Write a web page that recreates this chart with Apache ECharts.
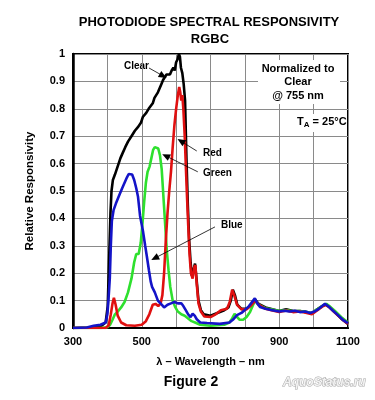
<!DOCTYPE html>
<html>
<head>
<meta charset="utf-8">
<script src="https://cdn.jsdelivr.net/npm/echarts@6/dist/echarts.min.js"></script>
<style>
  html, body { margin: 0; padding: 0; background: #fff; }
  #chart { width: 375px; height: 400px; }
</style>
</head>
<body>
<div id="chart"></div>
<script>
// wavelength (nm), relative responsivity
const clearData = [[300, 0], [350, 0.002], [380, 0.006], [395, 0.02], [401, 0.08], [405, 0.25], [409, 0.42], [412, 0.5], [416, 0.54], [422, 0.56], [430, 0.59], [438, 0.62], [445, 0.64], [452, 0.66], [460, 0.68], [470, 0.7], [480, 0.72], [490, 0.735], [498, 0.75], [503, 0.77], [508, 0.765], [513, 0.785], [520, 0.8], [526, 0.81], [532, 0.82], [537, 0.84], [542, 0.845], [547, 0.86], [552, 0.875], [557, 0.89], [562, 0.905], [567, 0.915], [572, 0.925], [577, 0.93], [582, 0.925], [587, 0.94], [592, 0.95], [596, 0.94], [600, 0.97], [604, 0.98], [608, 1.0], [611, 0.99], [614, 0.95], [618, 0.93], [622, 0.89], [626, 0.83], [630, 0.62], [634, 0.45], [638, 0.32], [642, 0.24], [646, 0.19], [650, 0.21], [655, 0.235], [660, 0.17], [665, 0.1], [672, 0.065], [680, 0.05], [700, 0.045], [720, 0.055], [740, 0.065], [752, 0.075], [759, 0.1], [765, 0.14], [771, 0.12], [778, 0.085], [790, 0.07], [805, 0.07], [820, 0.085], [829, 0.105], [840, 0.088], [860, 0.075], [880, 0.068], [900, 0.062], [920, 0.068], [940, 0.062], [960, 0.062], [980, 0.058], [995, 0.053], [1010, 0.068], [1025, 0.08], [1035, 0.087], [1045, 0.078], [1060, 0.06], [1080, 0.035], [1100, 0.015]]
const greenData = [[300, 0], [380, 0], [400, 0.003], [408, 0.012], [415, 0.03], [422, 0.05], [430, 0.06], [440, 0.075], [450, 0.095], [460, 0.13], [470, 0.18], [478, 0.24], [484, 0.27], [491, 0.27], [497, 0.31], [502, 0.38], [507, 0.46], [512, 0.53], [517, 0.57], [523, 0.59], [528, 0.62], [533, 0.65], [538, 0.66], [543, 0.655], [548, 0.655], [553, 0.63], [558, 0.58], [563, 0.48], [568, 0.38], [573, 0.28], [578, 0.21], [583, 0.15], [590, 0.1], [597, 0.077], [605, 0.06], [615, 0.05], [625, 0.045], [635, 0.035], [645, 0.025], [655, 0.02], [670, 0.012], [700, 0.008], [740, 0.012], [755, 0.02], [763, 0.035], [770, 0.052], [776, 0.042], [785, 0.03], [795, 0.03], [805, 0.04], [815, 0.058], [824, 0.085], [831, 0.1], [840, 0.085], [860, 0.072], [880, 0.067], [900, 0.062], [920, 0.066], [940, 0.061], [960, 0.062], [980, 0.058], [995, 0.055], [1010, 0.068], [1025, 0.08], [1037, 0.088], [1048, 0.078], [1062, 0.062], [1080, 0.04], [1100, 0.02]]
const redData = [[300, 0], [395, 0], [404, 0.01], [410, 0.05], [415, 0.09], [419, 0.11], [424, 0.085], [430, 0.045], [440, 0.02], [455, 0.01], [480, 0.008], [500, 0.012], [512, 0.025], [522, 0.05], [532, 0.085], [540, 0.088], [548, 0.08], [555, 0.09], [560, 0.12], [565, 0.2], [570, 0.32], [575, 0.42], [580, 0.5], [585, 0.57], [590, 0.66], [595, 0.74], [600, 0.8], [605, 0.85], [609, 0.88], [612, 0.86], [615, 0.83], [618, 0.85], [621, 0.8], [625, 0.7], [628, 0.6], [631, 0.5], [635, 0.38], [639, 0.27], [643, 0.2], [648, 0.18], [652, 0.22], [656, 0.23], [660, 0.16], [665, 0.09], [672, 0.06], [682, 0.042], [700, 0.04], [715, 0.05], [730, 0.065], [748, 0.07], [756, 0.095], [763, 0.14], [769, 0.12], [777, 0.085], [790, 0.068], [805, 0.068], [820, 0.085], [830, 0.1], [840, 0.085], [860, 0.07], [880, 0.064], [900, 0.058], [920, 0.064], [940, 0.058], [960, 0.06], [980, 0.055], [995, 0.05], [1010, 0.064], [1025, 0.078], [1035, 0.084], [1045, 0.076], [1060, 0.058], [1080, 0.035], [1100, 0.015]]
const blueData = [[300, 0], [340, 0.002], [360, 0.008], [380, 0.012], [395, 0.02], [400, 0.05], [403, 0.1], [407, 0.18], [410, 0.3], [413, 0.39], [418, 0.43], [425, 0.455], [433, 0.48], [443, 0.51], [450, 0.53], [457, 0.55], [462, 0.562], [467, 0.567], [472, 0.56], [478, 0.54], [484, 0.51], [489, 0.48], [495, 0.41], [504, 0.35], [510, 0.3], [515, 0.26], [521, 0.21], [526, 0.17], [530, 0.15], [538, 0.13], [547, 0.1], [558, 0.085], [565, 0.075], [575, 0.085], [585, 0.09], [595, 0.095], [605, 0.09], [615, 0.09], [621, 0.08], [628, 0.065], [635, 0.05], [642, 0.04], [648, 0.052], [654, 0.045], [660, 0.032], [670, 0.02], [690, 0.018], [727, 0.015], [755, 0.02], [765, 0.03], [777, 0.047], [790, 0.055], [800, 0.066], [812, 0.08], [824, 0.1], [829, 0.108], [836, 0.09], [844, 0.077], [860, 0.07], [880, 0.065], [900, 0.06], [915, 0.063], [930, 0.06], [945, 0.063], [960, 0.058], [975, 0.06], [990, 0.055], [1002, 0.06], [1015, 0.07], [1025, 0.08], [1033, 0.088], [1042, 0.08], [1055, 0.065], [1070, 0.048], [1085, 0.03], [1100, 0.018]]
// callout arrows: [from, to] in (nm, value)
const arrowLines = [
  [[521, 0.949], [562, 0.92]],
  [[660, 0.646], [614, 0.682]],
  [[663, 0.57], [570, 0.628]],
  [[713, 0.369], [538, 0.255]]
]

const chart = echarts.init(document.getElementById('chart'))
const font = 'Liberation Sans, Arial, sans-serif'

function curve (name, data, color, z) {
  return {
    name: name,
    type: 'line',
    data: data,
    symbol: 'none',
    z: z,
    lineStyle: { color: color, width: 2.6 },
    emphasis: { disabled: true }
  }
}

chart.setOption({
  animation: false,
  textStyle: { fontFamily: font },
  grid: { left: 73, right: 27, top: 54, bottom: 72, show: true, borderColor: '#000', borderWidth: 2 },
  xAxis: {
    type: 'value',
    min: 300,
    max: 1100,
    interval: 100,
    name: 'λ – Wavelength – nm',
    nameLocation: 'middle',
    nameGap: 28,
    nameTextStyle: { color: '#000', fontWeight: 'bold', fontSize: 11, fontFamily: font },
    axisLine: { show: true, lineStyle: { color: '#000', width: 2 } },
    axisTick: { show: false },
    splitLine: { lineStyle: { color: '#8a8a8a', width: 1 } },
    axisLabel: {
      color: '#000',
      fontWeight: 'bold',
      fontSize: 11,
      margin: 8,
      formatter: function (v) { return v % 200 === 100 ? String(v) : '' }
    }
  },
  yAxis: {
    type: 'value',
    min: 0,
    max: 1,
    interval: 0.1,
    name: 'Relative Responsivity',
    nameLocation: 'middle',
    nameGap: 37,
    nameTextStyle: { color: '#000', fontWeight: 'bold', fontSize: 11.5, fontFamily: font },
    axisLine: { show: true, lineStyle: { color: '#000', width: 2.5 } },
    axisTick: { show: false },
    splitLine: { lineStyle: { color: '#8a8a8a', width: 1 } },
    axisLabel: {
      color: '#000',
      fontWeight: 'bold',
      fontSize: 11,
      margin: 8,
      formatter: function (v) { return String(Math.round(v * 10) / 10) }
    }
  },
  series: [
    curve('Clear', clearData, '#000000', 2),
    curve('Green', greenData, '#2ee02e', 3),
    curve('Red', redData, '#e01010', 4),
    curve('Blue', blueData, '#1414c8', 5),
    {
      type: 'line',
      data: [],
      z: 6,
      markLine: {
        silent: true,
        symbol: ['none', 'triangle'],
        symbolSize: [7, 8],
        label: { show: false },
        lineStyle: { color: '#000', width: 0.8, type: 'solid' },
        data: arrowLines.map(function (l) {
          return [{ coord: l[0] }, { coord: l[1] }]
        })
      }
    }
  ],
  graphic: [
    { type: 'text', x: 209, y: 16, style: { text: 'PHOTODIODE SPECTRAL RESPONSIVITY', align: 'center', fill: '#000', font: 'bold 13px ' + font } },
    { type: 'text', x: 210, y: 33, style: { text: 'RGBC', align: 'center', fill: '#000', font: 'bold 13px ' + font } },
    { type: 'text', x: 124, y: 61, style: { text: 'Clear', fill: '#000', font: 'bold 10px ' + font } },
    { type: 'text', x: 203, y: 148, style: { text: 'Red', fill: '#000', font: 'bold 10px ' + font } },
    { type: 'text', x: 203, y: 168, style: { text: 'Green', fill: '#000', font: 'bold 10px ' + font } },
    { type: 'text', x: 221, y: 220, style: { text: 'Blue', fill: '#000', font: 'bold 10px ' + font } },
    { type: 'rect', shape: { x: 258, y: 60, width: 82, height: 44 }, style: { fill: '#fff' }, z: 10 },
    { type: 'text', x: 298, y: 62, z: 11, style: { text: 'Normalized to\nClear\n@ 755 nm', align: 'center', lineHeight: 13.5, fill: '#000', font: 'bold 11px ' + font } },
    { type: 'rect', shape: { x: 294, y: 114, width: 50, height: 18 }, style: { fill: '#fff' }, z: 10 },
    {
      type: 'text', x: 297, y: 116, z: 11,
      style: {
        text: '{t|T}{s|A}{t| = 25°C}',
        rich: {
          t: { fill: '#000', fontWeight: 'bold', fontSize: 11, fontFamily: font, verticalAlign: 'top' },
          s: { fill: '#000', fontWeight: 'bold', fontSize: 8, fontFamily: font, padding: [5, 0, 0, 0] }
        }
      }
    },
    { type: 'text', x: 191, y: 375, style: { text: 'Figure 2', align: 'center', fill: '#000', font: 'bold 14px ' + font } },
    { type: 'text', x: 283, y: 377, style: { text: 'AquoStatus.ru', fill: '#f2f2f2', stroke: '#a8a8a8', lineWidth: 1, font: 'italic bold 12px ' + font } }
  ]
})
</script>
</body>
</html>
